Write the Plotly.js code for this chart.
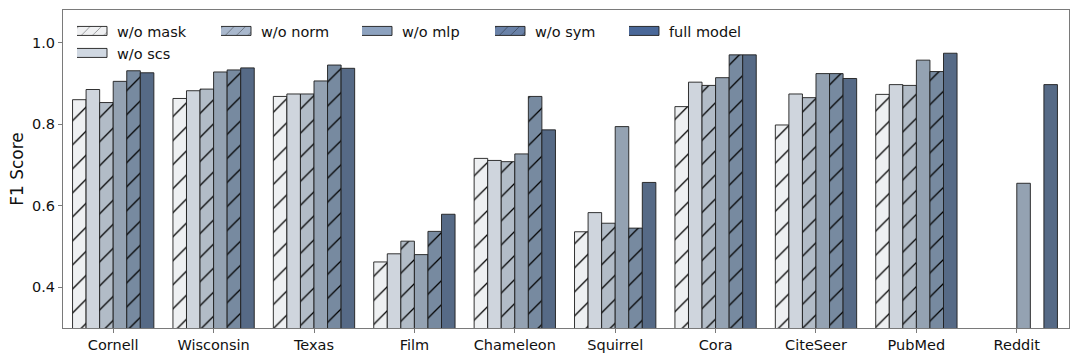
<!DOCTYPE html>
<html>
<head>
<meta charset="utf-8">
<script src="https://cdn.plot.ly/plotly-3.0.1.min.js"></script>
<style>
  html, body { margin: 0; padding: 0; background: #fff; }
  #chart { width: 1080px; height: 360px; }
</style>
</head>
<body>
<div id="chart"></div>
<script>
// ---- data ----
const datasets = ["Cornell", "Wisconsin", "Texas", "Film", "Chameleon", "Squirrel", "Cora", "CiteSeer", "PubMed", "Reddit"];
const seriesNames = ["w/o mask", "w/o scs", "w/o norm", "w/o mlp", "w/o sym", "full model"];
const woMask  = [0.860, 0.863, 0.868, 0.462, 0.716, 0.536, 0.843, 0.798, 0.873, null];
const woScs   = [0.885, 0.882, 0.874, 0.482, 0.711, 0.583, 0.903, 0.874, 0.897, null];
const woNorm  = [0.853, 0.886, 0.874, 0.513, 0.708, 0.557, 0.895, 0.865, 0.895, null];
const woMlp   = [0.905, 0.928, 0.906, 0.480, 0.727, 0.794, 0.914, 0.924, 0.957, 0.655];
const woSym   = [0.931, 0.933, 0.945, 0.537, 0.868, 0.545, 0.970, 0.924, 0.929, null];
const fullModel = [0.926, 0.938, 0.937, 0.579, 0.786, 0.657, 0.970, 0.912, 0.974, 0.897];
const yTicks = [0.4, 0.6, 0.8, 1.0];
const yTickLabels = ["0.4", "0.6", "0.8", "1.0"];

// ---- styles ----
const barColors    = ["#eef0f2", "#cfd5dd", "#b2bcc7", "#94a2b2", "#778aa0", "#566a86"];
const legendColors = ["#eff0f2", "#d0d8e2", "#a9b8cd", "#8da2bf", "#6a82a8", "#4a6899"];
const hatched      = [true, false, true, false, true, false];
const values = [woMask, woScs, woNorm, woMlp, woSym, fullModel];
const FONT = "DejaVu Sans, sans-serif";
const HATCH = { shape: "/", size: 17, solidity: 0.075, fgcolor: "#000", fgopacity: 1, fillmode: "overlay" };

const traces = [];
values.forEach((vals, i) => {
  const marker = {
    color: barColors[i],
    line: { color: "rgba(30,30,30,0.9)", width: 1 }
  };
  if (hatched[i]) marker.pattern = HATCH;
  traces.push({
    type: "bar", name: seriesNames[i], x: datasets, y: vals,
    marker: marker, showlegend: false, hoverinfo: "skip"
  });
});

// legend-only entries (on a hidden overlay axis so they don't take bar slots)
const legendX = [119, 119, 263, 404, 537, 671];
const legendRow = [0, 1, 0, 0, 0, 0];
const plotL = 63, plotR = 1069, plotT = 10, plotB = 328;
const layoutLegends = {};
seriesNames.forEach((nm, i) => {
  const key = i === 0 ? "legend" : "legend" + (i + 1);
  const marker = {
    color: legendColors[i],
    line: { color: "rgba(30,30,30,0.9)", width: 1 }
  };
  if (hatched[i]) marker.pattern = { shape: "/", size: 30, solidity: 0.045, fgcolor: "#000", fgopacity: 1, fillmode: "overlay" };
  traces.push({
    type: "bar", name: nm, x: [null], y: [null], xaxis: "x2", yaxis: "y2",
    marker: marker, showlegend: true, legend: key, hoverinfo: "skip"
  });
  const py = legendRow[i] === 0 ? 31 : 53;
  layoutLegends[key] = {
    x: (legendX[i] - 42 - plotL) / (plotR - plotL),
    y: (plotB - py) / (plotB - plotT),
    xanchor: "left", yanchor: "middle",
    bgcolor: "rgba(0,0,0,0)", borderwidth: 0,
    font: { family: FONT, size: 14.5, color: "#111" },
    itemwidth: 30
  };
});

const axisColor = "#7a7a7a";
const layout = Object.assign({
  width: 1080, height: 360,
  margin: { l: plotL, r: 1080 - plotR, t: plotT, b: 360 - plotB },
  paper_bgcolor: "#fff", plot_bgcolor: "#fff",
  barmode: "group", bargap: 0.19, bargroupgap: 0,
  font: { family: FONT, size: 14.5, color: "#111" },
  xaxis: {
    type: "category", categoryorder: "array", categoryarray: datasets,
    range: [-0.5, 9.52],
    showline: true, mirror: true, linecolor: axisColor, linewidth: 1,
    ticks: "outside", ticklen: 4, tickcolor: axisColor, tickwidth: 1,
    showgrid: false, zeroline: false,
    tickfont: { family: FONT, size: 14.5, color: "#111" }
  },
  yaxis: {
    range: [0.3, 1.08],
    tickvals: yTicks, ticktext: yTickLabels,
    showline: true, mirror: true, linecolor: axisColor, linewidth: 1,
    ticks: "outside", ticklen: 4, tickcolor: axisColor, tickwidth: 1,
    showgrid: false, zeroline: false,
    tickfont: { family: FONT, size: 14.5, color: "#111" },
    title: { text: "F1 Score", font: { family: FONT, size: 17, color: "#111" }, standoff: 4 }
  },
  xaxis2: { overlaying: "x", visible: false, range: [0, 1] },
  yaxis2: { overlaying: "y", visible: false, range: [0, 1] }
}, layoutLegends);

Plotly.newPlot("chart", traces, layout, { staticPlot: true, displayModeBar: false }).then(gd => {
  // widen legend handles to matplotlib-like rectangles
  gd.querySelectorAll(".legendpoints path").forEach(p => {
    p.setAttribute("d", "M10,4.5H-21V-4.5H10Z");
  });
});
</script>
</body>
</html>
